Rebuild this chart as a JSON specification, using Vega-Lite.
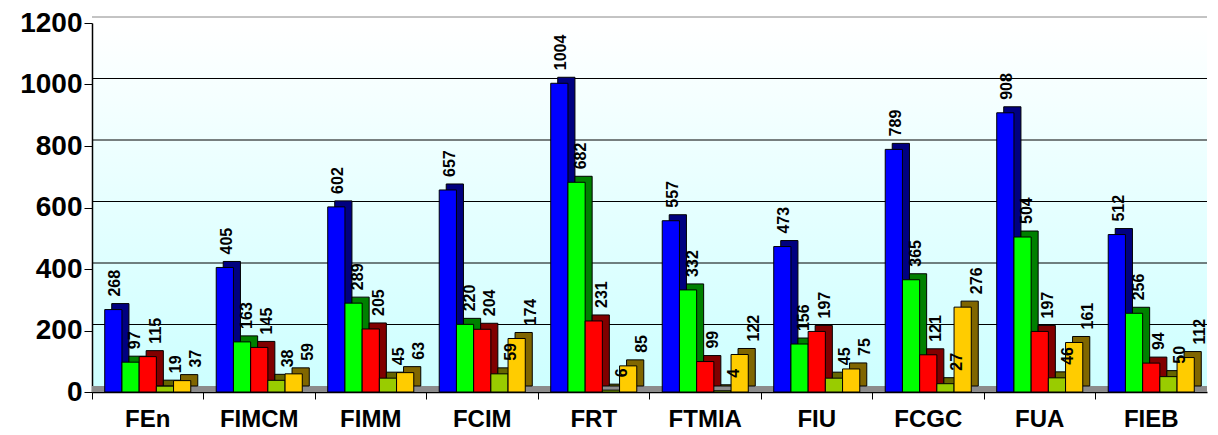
{
  "$schema": "https://vega.github.io/schema/vega-lite/v6.json",
  "autosize": {"type": "none"},
  "padding": {"left": 92, "top": 23, "right": 11, "bottom": 43},
  "width": 1115,
  "height": 369,
  "background": "white",
  "config": {
    "font": "Liberation Sans",
    "view": {
      "stroke": null,
      "fill": {"gradient": "linear", "x1": 0, "y1": 0, "x2": 0, "y2": 1,
        "stops": [{"offset": 0, "color": "#FFFFFF"}, {"offset": 1, "color": "#CCFFFF"}]}
    }
  },
  "datasets": {
    "bars": [
      {"fac": "FEn", "s": "1", "v": 268}, {"fac": "FEn", "s": "2", "v": 97}, {"fac": "FEn", "s": "3", "v": 115}, {"fac": "FEn", "s": "4", "v": 19}, {"fac": "FEn", "s": "5", "v": 37},
      {"fac": "FIMCM", "s": "1", "v": 405}, {"fac": "FIMCM", "s": "2", "v": 163}, {"fac": "FIMCM", "s": "3", "v": 145}, {"fac": "FIMCM", "s": "4", "v": 38}, {"fac": "FIMCM", "s": "5", "v": 59},
      {"fac": "FIMM", "s": "1", "v": 602}, {"fac": "FIMM", "s": "2", "v": 289}, {"fac": "FIMM", "s": "3", "v": 205}, {"fac": "FIMM", "s": "4", "v": 45}, {"fac": "FIMM", "s": "5", "v": 63},
      {"fac": "FCIM", "s": "1", "v": 657}, {"fac": "FCIM", "s": "2", "v": 220}, {"fac": "FCIM", "s": "3", "v": 204}, {"fac": "FCIM", "s": "4", "v": 59}, {"fac": "FCIM", "s": "5", "v": 174},
      {"fac": "FRT", "s": "1", "v": 1004}, {"fac": "FRT", "s": "2", "v": 682}, {"fac": "FRT", "s": "3", "v": 231}, {"fac": "FRT", "s": "4", "v": 6}, {"fac": "FRT", "s": "5", "v": 85},
      {"fac": "FTMIA", "s": "1", "v": 557}, {"fac": "FTMIA", "s": "2", "v": 332}, {"fac": "FTMIA", "s": "3", "v": 99}, {"fac": "FTMIA", "s": "4", "v": 4}, {"fac": "FTMIA", "s": "5", "v": 122},
      {"fac": "FIU", "s": "1", "v": 473}, {"fac": "FIU", "s": "2", "v": 156}, {"fac": "FIU", "s": "3", "v": 197}, {"fac": "FIU", "s": "4", "v": 45}, {"fac": "FIU", "s": "5", "v": 75},
      {"fac": "FCGC", "s": "1", "v": 789}, {"fac": "FCGC", "s": "2", "v": 365}, {"fac": "FCGC", "s": "3", "v": 121}, {"fac": "FCGC", "s": "4", "v": 27}, {"fac": "FCGC", "s": "5", "v": 276},
      {"fac": "FUA", "s": "1", "v": 908}, {"fac": "FUA", "s": "2", "v": 504}, {"fac": "FUA", "s": "3", "v": 197}, {"fac": "FUA", "s": "4", "v": 46}, {"fac": "FUA", "s": "5", "v": 161},
      {"fac": "FIEB", "s": "1", "v": 512}, {"fac": "FIEB", "s": "2", "v": 256}, {"fac": "FIEB", "s": "3", "v": 94}, {"fac": "FIEB", "s": "4", "v": 50}, {"fac": "FIEB", "s": "5", "v": 112}
    ],
    "grid": [{"g": 200}, {"g": 400}, {"g": 600}, {"g": 800}, {"g": 1000}, {"g": 1200}]
  },
  "data": {"name": "bars"},
  "encoding": {
    "x": {
      "field": "fac", "type": "nominal", "sort": null,
      "scale": {"paddingInner": 0, "paddingOuter": 0},
      "axis": {
        "title": null, "labelAngle": 0, "labelFontSize": 24, "labelFontWeight": "bold",
        "labelColor": "black", "labelPadding": 8, "tickSize": 7, "tickColor": "black",
        "bandPosition": 0, "domainColor": "black", "domainWidth": 1.5, "labelBound": false
      }
    },
    "y": {
      "field": "v", "type": "quantitative",
      "scale": {"domain": [0, 1200], "nice": false},
      "axis": {
        "title": null, "values": [0, 200, 400, 600, 800, 1000, 1200], "format": "d",
        "labelFontSize": 28, "labelFontWeight": "bold", "labelColor": "black",
        "labelPadding": 2, "tickSize": 8, "tickColor": "black", "domainColor": "black",
        "domainWidth": 1.5, "grid": false
      }
    }
  },
  "layer": [
    {
      "data": {"name": "grid"},
      "mark": {"type": "rule", "strokeWidth": 1, "yOffset": -6},
      "encoding": {
        "y": {"field": "g", "type": "quantitative"},
        "x": null,
        "color": {"condition": {"test": "datum.g == 1200", "value": "#888888"}, "value": "black"}
      }
    },
    {
      "mark": {"type": "rule", "color": "#8c8c8c", "strokeWidth": 6, "yOffset": -3},
      "encoding": {"y": {"datum": 0}, "x": null}
    },
    {
      "mark": {"type": "bar", "yOffset": -6, "stroke": "black", "strokeWidth": 1},
      "encoding": {
        "xOffset": {"field": "s", "type": "nominal", "scale": {"paddingInner": 0, "paddingOuter": 0.74, "range": [7, 118.5]}},
        "fill": {
          "field": "s", "type": "nominal", "legend": null,
          "scale": {"domain": ["1", "2", "3", "4", "5"], "range": ["#000080", "#008000", "#800000", "#666600", "#806600"]}
        }
      }
    },
    {
      "mark": {"type": "bar", "stroke": "black", "strokeWidth": 1},
      "encoding": {
        "xOffset": {"field": "s", "type": "nominal", "scale": {"paddingInner": 0, "paddingOuter": 0.74}},
        "color": {
          "field": "s", "type": "nominal", "legend": null,
          "scale": {"domain": ["1", "2", "3", "4", "5"], "range": ["#0000FF", "#00FF00", "#FF0000", "#99CC00", "#FFCC00"]}
        }
      }
    },
    {
      "mark": {"type": "text", "angle": 270, "align": "left", "baseline": "middle", "dx": 13, "dy": 8,
        "fontSize": 16, "fontWeight": "bold", "color": "black"},
      "encoding": {
        "xOffset": {"field": "s", "type": "nominal", "scale": {"paddingInner": 0, "paddingOuter": 0.74}},
        "text": {"field": "v", "type": "quantitative"}
      }
    }
  ],
  "resolve": {"scale": {"fill": "independent", "color": "independent", "xOffset": "independent"}}
}
